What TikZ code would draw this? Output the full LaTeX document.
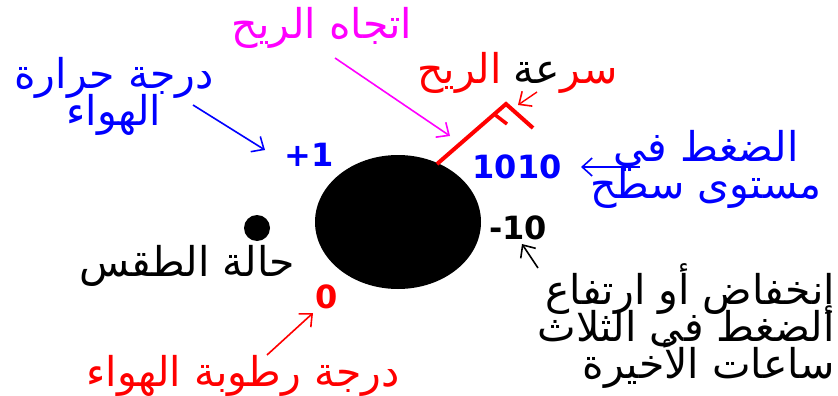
\documentclass[tikz,border=0pt]{standalone}
\usepackage{fontspec}
\usetikzlibrary{arrows.meta}
\TeXXeTstate=1
\newfontfamily\arf[Script=Arabic]{DejaVu Sans}
\newfontfamily\numf{DejaVu Sans}
\newcommand\arsetup{\arf\fontsize{41}{37}\selectfont\lineskiplimit-100pt\relax\lineskip0pt\relax}
\definecolor{mblue}{RGB}{0,0,255}
\definecolor{mred}{RGB}{255,0,0}
\definecolor{mmag}{RGB}{255,0,255}
\tikzset{
  artext/.style={inner sep=0pt, font=\arsetup, align=center},
  numtext/.style={inner sep=0pt, font=\numf\bfseries\fontsize{32}{36}\selectfont},
  ptr/.style={line width=1.6pt, -{Straight Barb[length=10pt,width=18pt,line width=1.6pt]}},
}
\begin{document}
\begin{tikzpicture}[x=1pt,y=-1pt]
\useasboundingbox (0,0) rectangle (838,396);
\fill[white] (0,0) rectangle (838,396);
% station model
\fill[black] (398,222) ellipse [x radius=83, y radius=67];
\node[circle, fill=black, minimum size=26pt, inner sep=0pt] (dot) at (257,228) {};
% wind barb
\coordinate (staff0) at (437,164);
\coordinate (staff1) at (506,104);
\coordinate (barbend) at (533,128);
\coordinate (hb0) at (494,114);
\coordinate (hb1) at (507,124);
\draw[mred, line width=4pt] (staff0) -- (staff1) -- (barbend);
\draw[mred, line width=3.5pt] (hb0) -- (hb1);
% labels
\node[artext, text=mmag] (dir) at (322,28) {\beginR اتجاه الريح\endR};
\node[artext, text=mred, anchor=base west] (speedA) at (417,84) {\beginR الريح\endR};
\node[artext, text=black, anchor=base west] (speedB) at ([xshift=12pt]speedA.base east) {\beginR عة\endR};
\node[artext, text=mred, anchor=base west] (speedC) at (speedB.base east) {\beginR سر\endR};
\node[artext, text=mblue] (temp) at (114,96) {\beginR درجة حرارة\endR\\\beginR الهواء\endR};
\node[artext, text=mblue] (press) at (706,169) {\beginR الضغط في\endR\\\beginR مستوى سطح\endR};
\node[artext, text=black, align=right, anchor=east] (tend) at (835,326) {\beginR إنخفاض أو ارتفاع\endR\\\beginR الضغط فى الثلاث\endR\\\beginR ساعات الأخيرة\endR};
\node[artext, text=black] (wx) at (187,266) {\beginR حالة الطقس\endR};
\node[artext, text=mred] (hum) at (243,376) {\beginR درجة رطوبة الهواء\endR};
% values
\node[numtext, text=mblue] (tval) at (309,155) {+1};
\node[numtext, text=mblue] (pval) at (517,167) {1010};
\node[numtext, text=black] (tendval) at (518,228) {-10};
\node[numtext, text=mred] (hval) at (327,297) {0};
% pointers
\coordinate (a1s) at (335,58);  \coordinate (a1e) at (450,136);
\coordinate (a2s) at (537,92);  \coordinate (a2e) at (518,105);
\coordinate (a3s) at (193,105); \coordinate (a3e) at (265,150);
\coordinate (a4s) at (640,167); \coordinate (a4e) at (581,167);
\coordinate (a5s) at (538,268); \coordinate (a5e) at (522,244);
\coordinate (a6s) at (267,355); \coordinate (a6e) at (313,313);
\draw[ptr, mmag] (a1s) -- (a1e);
\draw[ptr, mred, line width=1.4pt] (a2s) -- (a2e);
\draw[ptr, mblue] (a3s) -- (a3e);
\draw[ptr, mblue] (a4s) -- (a4e);
\draw[ptr, black] (a5s) -- (a5e);
\draw[ptr, mred] (a6s) -- (a6e);
\end{tikzpicture}
\end{document}
